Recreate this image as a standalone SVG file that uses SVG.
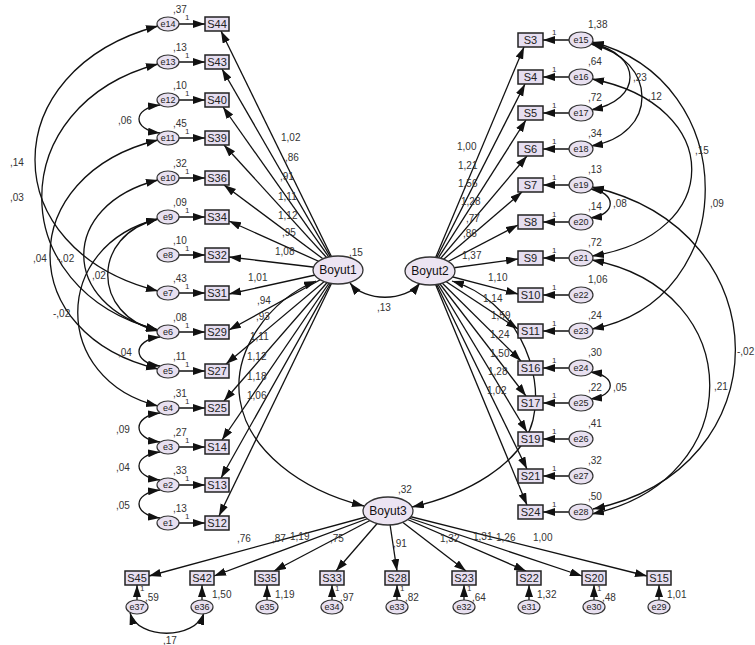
<svg xmlns="http://www.w3.org/2000/svg" width="755" height="645" viewBox="0 0 755 645">
<style>
text{font-family:"Liberation Sans",Arial,sans-serif;fill:#333}
.lb{font-size:10px}
.one{font-size:8px}
.nt{font-size:11px;fill:#222;text-anchor:middle}
.et{font-size:9px;fill:#222;text-anchor:middle}
.lt{font-size:12px;fill:#111;text-anchor:middle}
.box{fill:#e6def0;stroke:#222;stroke-width:1.5}
.err{fill:#e8e0f0;stroke:#333;stroke-width:1.2}
.lat{fill:#ece4f2;stroke:#333;stroke-width:1.3}
#connectors line,#connectors path{stroke:#111;stroke-width:1.3;fill:none}
.a{marker-end:url(#ah)}
.c{marker-end:url(#ah);marker-start:url(#ahs)}
</style>
<defs>
<marker id="ah" markerUnits="userSpaceOnUse" markerWidth="13" markerHeight="9" refX="12" refY="4" orient="auto"><path d="M0,0 L12,4 L0,8 z" fill="#111"/></marker>
<marker id="ahs" markerUnits="userSpaceOnUse" markerWidth="13" markerHeight="9" refX="12" refY="4" orient="auto-start-reverse"><path d="M0,0 L12,4 L0,8 z" fill="#111"/></marker>
</defs>
<rect width="755" height="645" fill="#fff"/>
<g id="connectors">
<line class="a" x1="168" y1="24" x2="205" y2="24"/>
<line class="a" x1="168" y1="62" x2="205" y2="62"/>
<line class="a" x1="168" y1="100" x2="205" y2="100"/>
<line class="a" x1="168" y1="138" x2="205" y2="138"/>
<line class="a" x1="168" y1="178" x2="205" y2="178"/>
<line class="a" x1="168" y1="217" x2="205" y2="217"/>
<line class="a" x1="168" y1="255" x2="205" y2="255"/>
<line class="a" x1="168" y1="293" x2="205" y2="293"/>
<line class="a" x1="168" y1="332" x2="205" y2="332"/>
<line class="a" x1="168" y1="371" x2="205" y2="371"/>
<line class="a" x1="168" y1="408" x2="205" y2="408"/>
<line class="a" x1="168" y1="447" x2="205" y2="447"/>
<line class="a" x1="168" y1="485" x2="205" y2="485"/>
<line class="a" x1="168" y1="523" x2="205" y2="523"/>
<line class="a" x1="581" y1="40" x2="543" y2="40"/>
<line class="a" x1="581" y1="77" x2="543" y2="77"/>
<line class="a" x1="581" y1="113" x2="543" y2="113"/>
<line class="a" x1="581" y1="149" x2="543" y2="149"/>
<line class="a" x1="581" y1="185" x2="543" y2="185"/>
<line class="a" x1="581" y1="222" x2="543" y2="222"/>
<line class="a" x1="581" y1="258" x2="543" y2="258"/>
<line class="a" x1="581" y1="295" x2="543" y2="295"/>
<line class="a" x1="581" y1="331" x2="543" y2="331"/>
<line class="a" x1="581" y1="368" x2="543" y2="368"/>
<line class="a" x1="581" y1="403" x2="543" y2="403"/>
<line class="a" x1="581" y1="439" x2="543" y2="439"/>
<line class="a" x1="581" y1="476" x2="543" y2="476"/>
<line class="a" x1="581" y1="512" x2="543" y2="512"/>
<line class="a" x1="137" y1="607" x2="137" y2="585"/>
<line class="a" x1="202" y1="607" x2="202" y2="585"/>
<line class="a" x1="267" y1="607" x2="267" y2="585"/>
<line class="a" x1="332" y1="607" x2="332" y2="585"/>
<line class="a" x1="397" y1="607" x2="397" y2="585"/>
<line class="a" x1="464" y1="607" x2="464" y2="585"/>
<line class="a" x1="529" y1="607" x2="529" y2="585"/>
<line class="a" x1="594" y1="607" x2="594" y2="585"/>
<line class="a" x1="659" y1="607" x2="659" y2="585"/>
<line class="a" x1="338" y1="270" x2="221" y2="31"/>
<line class="a" x1="338" y1="270" x2="222" y2="69"/>
<line class="a" x1="338" y1="270" x2="223" y2="107"/>
<line class="a" x1="338" y1="270" x2="224" y2="145"/>
<line class="a" x1="338" y1="270" x2="224" y2="185"/>
<line class="a" x1="338" y1="270" x2="229" y2="221"/>
<line class="a" x1="338" y1="270" x2="229" y2="257"/>
<line class="a" x1="338" y1="270" x2="229" y2="294"/>
<line class="a" x1="338" y1="270" x2="229" y2="330"/>
<line class="a" x1="338" y1="270" x2="226" y2="364"/>
<line class="a" x1="338" y1="270" x2="224" y2="401"/>
<line class="a" x1="338" y1="270" x2="222" y2="440"/>
<line class="a" x1="338" y1="270" x2="221" y2="478"/>
<line class="a" x1="338" y1="270" x2="219" y2="516"/>
<line class="a" x1="430" y1="271" x2="524" y2="47"/>
<line class="a" x1="430" y1="271" x2="525" y2="84"/>
<line class="a" x1="430" y1="271" x2="526" y2="120"/>
<line class="a" x1="430" y1="271" x2="527" y2="156"/>
<line class="a" x1="430" y1="271" x2="522" y2="192"/>
<line class="a" x1="430" y1="271" x2="518" y2="225"/>
<line class="a" x1="430" y1="271" x2="518" y2="259"/>
<line class="a" x1="430" y1="271" x2="518" y2="294"/>
<line class="a" x1="430" y1="271" x2="518" y2="329"/>
<line class="a" x1="430" y1="271" x2="521" y2="361"/>
<line class="a" x1="430" y1="271" x2="526" y2="396"/>
<line class="a" x1="430" y1="271" x2="527" y2="432"/>
<line class="a" x1="430" y1="271" x2="527" y2="469"/>
<line class="a" x1="430" y1="271" x2="527" y2="505"/>
<line class="a" x1="388" y1="511" x2="149" y2="576"/>
<line class="a" x1="388" y1="511" x2="214" y2="576"/>
<line class="a" x1="388" y1="511" x2="274" y2="571"/>
<line class="a" x1="388" y1="511" x2="336" y2="571"/>
<line class="a" x1="388" y1="511" x2="397" y2="571"/>
<line class="a" x1="388" y1="511" x2="466" y2="571"/>
<line class="a" x1="388" y1="511" x2="526" y2="571"/>
<line class="a" x1="388" y1="511" x2="582" y2="576"/>
<line class="a" x1="388" y1="511" x2="647" y2="576"/>
<path class="c" d="M350,283 C365,302 405,302 420,283"/>
<path class="c" d="M316,281 C270,300 232,350 240,400 C248,450 300,490 364,506"/>
<path class="c" d="M452,281 C515,300 545,370 533,420 C522,465 465,495 412,507"/>
<path class="c" d="M158,26 C-6,70 -6,250 158,291"/>
<path class="c" d="M158,64 C3,105 3,290 158,330"/>
<path class="c" d="M158,140 C14,175 14,335 158,369"/>
<path class="c" d="M158,180 C59,205 59,305 158,330"/>
<path class="c" d="M158,219 C91,235 91,315 158,331"/>
<path class="c" d="M158,219 C51,245 51,380 158,406"/>
<path class="c" d="M160,105 C132,108 132,130 160,133"/>
<path class="c" d="M160,337 C132,340 132,363 160,366"/>
<path class="c" d="M160,413 C132,416 132,439 160,442"/>
<path class="c" d="M160,452 C132,455 132,477 160,480"/>
<path class="c" d="M160,490 C132,493 132,515 160,518"/>
<path class="c" d="M591,43 C643,55 643,100 591,110"/>
<path class="c" d="M591,44 C659,60 659,135 591,146"/>
<path class="c" d="M592,42 C743,80 743,300 592,329"/>
<path class="c" d="M592,79 C725,105 725,235 592,256"/>
<path class="c" d="M590,189 C617,192 617,215 590,218"/>
<path class="c" d="M592,187 C783,230 783,470 593,509"/>
<path class="c" d="M592,260 C749,290 749,480 592,514"/>
<path class="c" d="M590,372 C617,375 617,396 590,399"/>
<path class="c" d="M130,613 C138,640 195,640 204,613"/>
<g class="lb">
<text x="281" y="141">1,02</text><text x="285" y="161">,86</text><text x="280" y="180">,91</text>
<text x="278" y="200">1,11</text><text x="278" y="219">1,12</text><text x="282" y="236">,95</text>
<text x="275" y="255">1,08</text><text x="248" y="281">1,01</text><text x="257" y="304">,94</text>
<text x="256" y="320">,93</text><text x="250" y="340">1,11</text><text x="247" y="360">1,12</text>
<text x="247" y="380">1,18</text><text x="247" y="399">1,06</text>
<text x="457" y="150">1,00</text><text x="458" y="169">1,21</text><text x="458" y="187">1,56</text>
<text x="461" y="205">1,28</text><text x="466" y="222">,77</text><text x="463" y="237">,86</text>
<text x="462" y="259">1,37</text><text x="488" y="281">1,10</text><text x="483" y="302">1,14</text>
<text x="491" y="319">1,59</text><text x="490" y="338">1,24</text><text x="490" y="357">1,50</text>
<text x="488" y="375">1,28</text><text x="487" y="394">1,02</text>
<text x="237" y="542">,76</text><text x="272" y="542">,87</text><text x="290" y="540">1,19</text>
<text x="330" y="542">,75</text><text x="393" y="547">,91</text><text x="440" y="542">1,32</text>
<text x="473" y="540">1,31</text><text x="496" y="541">1,26</text><text x="533" y="541">1,00</text>
<text x="377" y="311">,13</text>
<text x="10" y="166">,14</text><text x="10" y="201">,03</text><text x="33" y="262">,04</text>
<text x="57" y="262">-,02</text><text x="92" y="279">,02</text><text x="53" y="317">-,02</text>
<text x="118" y="124">,06</text><text x="118" y="356">,04</text><text x="116" y="433">,09</text>
<text x="116" y="471">,04</text><text x="116" y="509">,05</text>
<text x="633" y="81">,23</text><text x="648" y="100">,12</text><text x="695" y="154">,15</text>
<text x="710" y="207">,09</text><text x="613" y="207">,08</text><text x="737" y="355">-,02</text>
<text x="714" y="390">,21</text><text x="613" y="391">,05</text>
<text x="163" y="644">,17</text>
</g>
<g class="one">
<text x="185" y="20">1</text><text x="185" y="58">1</text><text x="185" y="96">1</text><text x="185" y="134">1</text>
<text x="185" y="174">1</text><text x="185" y="213">1</text><text x="185" y="251">1</text><text x="185" y="289">1</text>
<text x="185" y="328">1</text><text x="185" y="367">1</text><text x="185" y="404">1</text><text x="185" y="443">1</text>
<text x="185" y="481">1</text><text x="185" y="519">1</text>
<text x="552" y="35">1</text><text x="552" y="72">1</text><text x="552" y="108">1</text><text x="552" y="144">1</text>
<text x="552" y="180">1</text><text x="552" y="217">1</text><text x="552" y="253">1</text><text x="552" y="290">1</text>
<text x="552" y="326">1</text><text x="552" y="363">1</text><text x="552" y="398">1</text><text x="552" y="434">1</text>
<text x="552" y="471">1</text><text x="552" y="507">1</text>
<text x="140" y="591">1</text><text x="335" y="591">1</text><text x="400" y="591">1</text>
<text x="467" y="591">1</text><text x="597" y="591">1</text>
</g>
</g>
<g id="Boyut1"><ellipse class="lat" cx="338" cy="270" rx="25" ry="14"/><text class="lt" x="338" y="274">Boyut1</text><text class="lb" x="349" y="256">,15</text></g>
<g id="Boyut2"><ellipse class="lat" cx="430" cy="271" rx="25" ry="14"/><text class="lt" x="430" y="275">Boyut2</text></g>
<g id="Boyut3"><ellipse class="lat" cx="388" cy="511" rx="25" ry="14"/><text class="lt" x="388" y="515">Boyut3</text><text class="lb" x="398" y="493">,32</text></g>
<g id="S44"><rect class="box" x="205" y="17" width="24" height="14"/><text class="nt" x="217" y="28">S44</text></g>
<g id="S43"><rect class="box" x="205" y="55" width="24" height="14"/><text class="nt" x="217" y="66">S43</text></g>
<g id="S40"><rect class="box" x="205" y="93" width="24" height="14"/><text class="nt" x="217" y="104">S40</text></g>
<g id="S39"><rect class="box" x="205" y="131" width="24" height="14"/><text class="nt" x="217" y="142">S39</text></g>
<g id="S36"><rect class="box" x="205" y="171" width="24" height="14"/><text class="nt" x="217" y="182">S36</text></g>
<g id="S34"><rect class="box" x="205" y="210" width="24" height="14"/><text class="nt" x="217" y="221">S34</text></g>
<g id="S32"><rect class="box" x="205" y="248" width="24" height="14"/><text class="nt" x="217" y="259">S32</text></g>
<g id="S31"><rect class="box" x="205" y="286" width="24" height="14"/><text class="nt" x="217" y="297">S31</text></g>
<g id="S29"><rect class="box" x="205" y="325" width="24" height="14"/><text class="nt" x="217" y="336">S29</text></g>
<g id="S27"><rect class="box" x="205" y="364" width="24" height="14"/><text class="nt" x="217" y="375">S27</text></g>
<g id="S25"><rect class="box" x="205" y="401" width="24" height="14"/><text class="nt" x="217" y="412">S25</text></g>
<g id="S14"><rect class="box" x="205" y="440" width="24" height="14"/><text class="nt" x="217" y="451">S14</text></g>
<g id="S13"><rect class="box" x="205" y="478" width="24" height="14"/><text class="nt" x="217" y="489">S13</text></g>
<g id="S12"><rect class="box" x="205" y="516" width="24" height="14"/><text class="nt" x="217" y="527">S12</text></g>
<g id="e14"><ellipse class="err" cx="168" cy="24" rx="11" ry="7"/><text class="et" x="168" y="27">e14</text><text class="lb" x="173" y="13">,37</text></g>
<g id="e13"><ellipse class="err" cx="168" cy="62" rx="11" ry="7"/><text class="et" x="168" y="65">e13</text><text class="lb" x="173" y="51">,13</text></g>
<g id="e12"><ellipse class="err" cx="168" cy="100" rx="11" ry="7"/><text class="et" x="168" y="103">e12</text><text class="lb" x="173" y="89">,10</text></g>
<g id="e11"><ellipse class="err" cx="168" cy="138" rx="11" ry="7"/><text class="et" x="168" y="141">e11</text><text class="lb" x="173" y="127">,45</text></g>
<g id="e10"><ellipse class="err" cx="168" cy="178" rx="11" ry="7"/><text class="et" x="168" y="181">e10</text><text class="lb" x="173" y="167">,32</text></g>
<g id="e9"><ellipse class="err" cx="168" cy="217" rx="11" ry="7"/><text class="et" x="168" y="220">e9</text><text class="lb" x="173" y="206">,09</text></g>
<g id="e8"><ellipse class="err" cx="168" cy="255" rx="11" ry="7"/><text class="et" x="168" y="258">e8</text><text class="lb" x="173" y="244">,10</text></g>
<g id="e7"><ellipse class="err" cx="168" cy="293" rx="11" ry="7"/><text class="et" x="168" y="296">e7</text><text class="lb" x="173" y="282">,43</text></g>
<g id="e6"><ellipse class="err" cx="168" cy="332" rx="11" ry="7"/><text class="et" x="168" y="335">e6</text><text class="lb" x="173" y="321">,08</text></g>
<g id="e5"><ellipse class="err" cx="168" cy="371" rx="11" ry="7"/><text class="et" x="168" y="374">e5</text><text class="lb" x="173" y="360">,11</text></g>
<g id="e4"><ellipse class="err" cx="168" cy="408" rx="11" ry="7"/><text class="et" x="168" y="411">e4</text><text class="lb" x="173" y="397">,31</text></g>
<g id="e3"><ellipse class="err" cx="168" cy="447" rx="11" ry="7"/><text class="et" x="168" y="450">e3</text><text class="lb" x="173" y="436">,27</text></g>
<g id="e2"><ellipse class="err" cx="168" cy="485" rx="11" ry="7"/><text class="et" x="168" y="488">e2</text><text class="lb" x="173" y="474">,33</text></g>
<g id="e1"><ellipse class="err" cx="168" cy="523" rx="11" ry="7"/><text class="et" x="168" y="526">e1</text><text class="lb" x="173" y="512">,13</text></g>
<g id="S3"><rect class="box" x="518" y="33" width="25" height="14"/><text class="nt" x="530.5" y="44">S3</text></g>
<g id="S4"><rect class="box" x="518" y="70" width="25" height="14"/><text class="nt" x="530.5" y="81">S4</text></g>
<g id="S5"><rect class="box" x="518" y="106" width="25" height="14"/><text class="nt" x="530.5" y="117">S5</text></g>
<g id="S6"><rect class="box" x="518" y="142" width="25" height="14"/><text class="nt" x="530.5" y="153">S6</text></g>
<g id="S7"><rect class="box" x="518" y="178" width="25" height="14"/><text class="nt" x="530.5" y="189">S7</text></g>
<g id="S8"><rect class="box" x="518" y="215" width="25" height="14"/><text class="nt" x="530.5" y="226">S8</text></g>
<g id="S9"><rect class="box" x="518" y="251" width="25" height="14"/><text class="nt" x="530.5" y="262">S9</text></g>
<g id="S10"><rect class="box" x="518" y="288" width="25" height="14"/><text class="nt" x="530.5" y="299">S10</text></g>
<g id="S11"><rect class="box" x="518" y="324" width="25" height="14"/><text class="nt" x="530.5" y="335">S11</text></g>
<g id="S16"><rect class="box" x="518" y="361" width="25" height="14"/><text class="nt" x="530.5" y="372">S16</text></g>
<g id="S17"><rect class="box" x="518" y="396" width="25" height="14"/><text class="nt" x="530.5" y="407">S17</text></g>
<g id="S19"><rect class="box" x="518" y="432" width="25" height="14"/><text class="nt" x="530.5" y="443">S19</text></g>
<g id="S21"><rect class="box" x="518" y="469" width="25" height="14"/><text class="nt" x="530.5" y="480">S21</text></g>
<g id="S24"><rect class="box" x="518" y="505" width="25" height="14"/><text class="nt" x="530.5" y="516">S24</text></g>
<g id="e15"><ellipse class="err" cx="581" cy="40" rx="12" ry="8"/><text class="et" x="581" y="43">e15</text><text class="lb" x="588" y="28">1,38</text></g>
<g id="e16"><ellipse class="err" cx="581" cy="77" rx="12" ry="8"/><text class="et" x="581" y="80">e16</text><text class="lb" x="588" y="65">,64</text></g>
<g id="e17"><ellipse class="err" cx="581" cy="113" rx="12" ry="8"/><text class="et" x="581" y="116">e17</text><text class="lb" x="588" y="101">,72</text></g>
<g id="e18"><ellipse class="err" cx="581" cy="149" rx="12" ry="8"/><text class="et" x="581" y="152">e18</text><text class="lb" x="588" y="137">,34</text></g>
<g id="e19"><ellipse class="err" cx="581" cy="185" rx="12" ry="8"/><text class="et" x="581" y="188">e19</text><text class="lb" x="588" y="173">,13</text></g>
<g id="e20"><ellipse class="err" cx="581" cy="222" rx="12" ry="8"/><text class="et" x="581" y="225">e20</text><text class="lb" x="588" y="210">,14</text></g>
<g id="e21"><ellipse class="err" cx="581" cy="258" rx="12" ry="8"/><text class="et" x="581" y="261">e21</text><text class="lb" x="588" y="246">,72</text></g>
<g id="e22"><ellipse class="err" cx="581" cy="295" rx="12" ry="8"/><text class="et" x="581" y="298">e22</text><text class="lb" x="588" y="283">1,06</text></g>
<g id="e23"><ellipse class="err" cx="581" cy="331" rx="12" ry="8"/><text class="et" x="581" y="334">e23</text><text class="lb" x="588" y="319">,24</text></g>
<g id="e24"><ellipse class="err" cx="581" cy="368" rx="12" ry="8"/><text class="et" x="581" y="371">e24</text><text class="lb" x="588" y="356">,30</text></g>
<g id="e25"><ellipse class="err" cx="581" cy="403" rx="12" ry="8"/><text class="et" x="581" y="406">e25</text><text class="lb" x="588" y="391">,22</text></g>
<g id="e26"><ellipse class="err" cx="581" cy="439" rx="12" ry="8"/><text class="et" x="581" y="442">e26</text><text class="lb" x="588" y="427">,41</text></g>
<g id="e27"><ellipse class="err" cx="581" cy="476" rx="12" ry="8"/><text class="et" x="581" y="479">e27</text><text class="lb" x="588" y="464">,32</text></g>
<g id="e28"><ellipse class="err" cx="581" cy="512" rx="12" ry="8"/><text class="et" x="581" y="515">e28</text><text class="lb" x="588" y="500">,50</text></g>
<g id="S45"><rect class="box" x="125" y="571" width="24" height="14"/><text class="nt" x="137" y="582">S45</text></g>
<g id="S42"><rect class="box" x="190" y="571" width="24" height="14"/><text class="nt" x="202" y="582">S42</text></g>
<g id="S35"><rect class="box" x="255" y="571" width="24" height="14"/><text class="nt" x="267" y="582">S35</text></g>
<g id="S33"><rect class="box" x="320" y="571" width="24" height="14"/><text class="nt" x="332" y="582">S33</text></g>
<g id="S28"><rect class="box" x="385" y="571" width="24" height="14"/><text class="nt" x="397" y="582">S28</text></g>
<g id="S23"><rect class="box" x="452" y="571" width="24" height="14"/><text class="nt" x="464" y="582">S23</text></g>
<g id="S22"><rect class="box" x="517" y="571" width="24" height="14"/><text class="nt" x="529" y="582">S22</text></g>
<g id="S20"><rect class="box" x="582" y="571" width="24" height="14"/><text class="nt" x="594" y="582">S20</text></g>
<g id="S15"><rect class="box" x="647" y="571" width="24" height="14"/><text class="nt" x="659" y="582">S15</text></g>
<g id="e37"><ellipse class="err" cx="137" cy="607" rx="11" ry="7"/><text class="et" x="137" y="610">e37</text><text class="lb" x="145" y="601">,59</text></g>
<g id="e36"><ellipse class="err" cx="202" cy="607" rx="11" ry="7"/><text class="et" x="202" y="610">e36</text><text class="lb" x="212" y="598">1,50</text></g>
<g id="e35"><ellipse class="err" cx="267" cy="607" rx="11" ry="7"/><text class="et" x="267" y="610">e35</text><text class="lb" x="275" y="598">1,19</text></g>
<g id="e34"><ellipse class="err" cx="332" cy="607" rx="11" ry="7"/><text class="et" x="332" y="610">e34</text><text class="lb" x="340" y="601">,97</text></g>
<g id="e33"><ellipse class="err" cx="397" cy="607" rx="11" ry="7"/><text class="et" x="397" y="610">e33</text><text class="lb" x="405" y="601">,82</text></g>
<g id="e32"><ellipse class="err" cx="464" cy="607" rx="11" ry="7"/><text class="et" x="464" y="610">e32</text><text class="lb" x="472" y="601">,64</text></g>
<g id="e31"><ellipse class="err" cx="529" cy="607" rx="11" ry="7"/><text class="et" x="529" y="610">e31</text><text class="lb" x="537" y="598">1,32</text></g>
<g id="e30"><ellipse class="err" cx="594" cy="607" rx="11" ry="7"/><text class="et" x="594" y="610">e30</text><text class="lb" x="602" y="601">,48</text></g>
<g id="e29"><ellipse class="err" cx="659" cy="607" rx="11" ry="7"/><text class="et" x="659" y="610">e29</text><text class="lb" x="667" y="598">1,01</text></g>
</svg>
